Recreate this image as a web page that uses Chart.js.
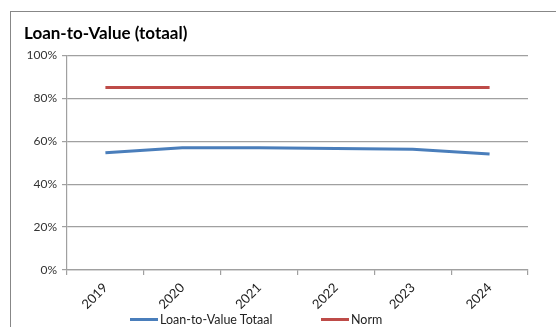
<!DOCTYPE html>
<html>
<head>
<meta charset="utf-8">
<script src="https://cdn.jsdelivr.net/npm/chart.js@4"></script>
<style>
  html, body { margin: 0; padding: 0; background: #fff; overflow: hidden; }
  #wrap { position: relative; width: 556px; height: 327px; overflow: hidden; }
  #frame { position: absolute; left: 10px; top: 11px; width: 600px; height: 400px; border: 1px solid #878787; }
  canvas { position: absolute; left: 0; top: 0; }
  #legend { position: absolute; left: 0; top: 312px; width: 556px; height: 16px; font: 12.5px Lato, sans-serif; color: #222; }
  .item { position: absolute; top: 0; white-space: nowrap; line-height: 16px; }
  .item i { display: inline-block; width: 28px; height: 3px; vertical-align: middle; margin-right: 2px; margin-top: -2px; }
</style>
</head>
<body>
<div id="wrap">
  <div id="frame"></div>
  <canvas id="ltvChart" width="556" height="327"></canvas>
  <div id="legend"></div>
</div>
<script>
const years = ['2019', '2020', '2021', '2022', '2023', '2024'];
const ltvTotaal = [54.6, 57.0, 57.0, 56.6, 56.3, 54.0];
const norm = [85, 85, 85, 85, 85, 85];
const yTicks = [0, 20, 40, 60, 80, 100];

const gridGrey = '#a0a0a0';

const chart = new Chart(document.getElementById('ltvChart'), {
    type: 'line',
    data: {
        labels: years,
        datasets: [
            { label: 'Loan-to-Value Totaal', data: ltvTotaal, borderColor: '#4a7ebb', borderWidth: 3, pointRadius: 0, tension: 0 },
            { label: 'Norm', data: norm, borderColor: '#be4b48', borderWidth: 3, pointRadius: 0, tension: 0 }
        ]
    },
    options: {
        responsive: false,
        animation: false,
        layout: { padding: { left: 24, right: 28, top: 0, bottom: 0 } },
        plugins: {
            legend: { display: false },
            tooltip: { enabled: false },
            title: {
                display: true,
                text: 'Loan-to-Value (totaal)',
                align: 'start',
                color: '#000',
                font: { family: 'Lato', size: 17, weight: 'bold' },
                padding: { top: 23, bottom: 12 }
            }
        },
        scales: {
            x: {
                offset: true,
                grid: { offset: true, drawOnChartArea: false, drawTicks: true, tickLength: 5, color: gridGrey, lineWidth: 1.2 },
                border: { color: gridGrey, width: 1.2 },
                ticks: { minRotation: 45, maxRotation: 45, padding: 5, color: '#222', font: { family: 'Lato', size: 13 } },
                afterFit: s => { s.height = 57; }
            },
            y: {
                min: 0, max: 100,
                afterBuildTicks: s => { s.ticks = yTicks.map(v => ({ value: v })); },
                grid: { color: gridGrey, lineWidth: 1.2, tickLength: 5 },
                border: { color: gridGrey, width: 1.2 },
                ticks: { callback: v => v + '%', padding: 5, color: '#333', font: { family: 'Lato', size: 12 } },
                afterFit: s => { s.width = 43; }
            }
        }
    }
});

// legend, built from the datasets
const legendPos = [130, 321];
const leg = document.getElementById('legend');
chart.data.datasets.forEach((ds, i) => {
    const el = document.createElement('span');
    el.className = 'item';
    el.style.left = legendPos[i] + 'px';
    el.innerHTML = '<i style="background:' + ds.borderColor + '"></i>' + ds.label;
    leg.appendChild(el);
});
</script>
</body>
</html>
